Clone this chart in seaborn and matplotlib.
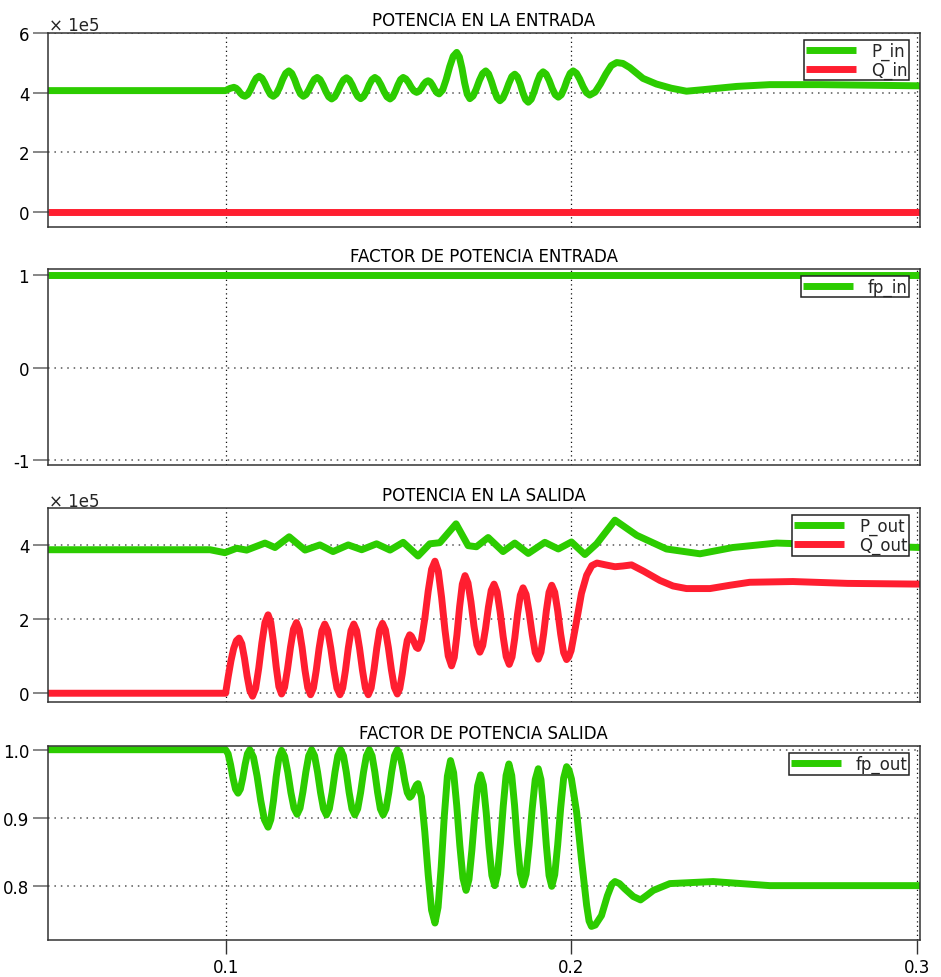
import matplotlib
matplotlib.use("Agg")
import matplotlib.pyplot as plt
import pandas as pd
import seaborn as sns

# ---------------- data ----------------
x_limits = [0.0486, 0.3009]
x_ticks = [0.1, 0.2, 0.3]
x_ticklabels = ["0.1", "0.2", "0.3"]

# Panel 1: POTENCIA EN LA ENTRADA (units of 1e5), (time, value) pairs
pin_pts = [
    (0.0486, 4.07), (0.1000, 4.07), (0.1012, 4.14), (0.1024, 4.18),
    (0.10304, 4.15), (0.10368, 4.08), (0.10432, 3.98), (0.10496, 3.91), (0.1056, 3.88),
    (0.10642, 3.94), (0.10724, 4.11), (0.10806, 4.32), (0.10888, 4.49), (0.1097, 4.55),
    (0.11052, 4.49), (0.11134, 4.32), (0.11216, 4.11), (0.11298, 3.94), (0.1138, 3.88),
    (0.1147, 3.96), (0.1156, 4.17), (0.1165, 4.44), (0.1174, 4.65), (0.1183, 4.73),
    (0.11914, 4.65), (0.11998, 4.44), (0.12082, 4.17), (0.12166, 3.96), (0.1225, 3.88),
    (0.1233, 3.94), (0.1241, 4.10), (0.1249, 4.29), (0.1257, 4.45), (0.1265, 4.51),
    (0.12734, 4.44), (0.12818, 4.26), (0.12902, 4.04), (0.12986, 3.86), (0.1307, 3.79),
    (0.13156, 3.86), (0.13242, 4.04), (0.13328, 4.26), (0.13414, 4.43), (0.1350, 4.50),
    (0.13582, 4.43), (0.13664, 4.26), (0.13746, 4.04), (0.13828, 3.87), (0.1391, 3.80),
    (0.13992, 3.87), (0.14074, 4.04), (0.14156, 4.27), (0.14238, 4.44), (0.1432, 4.51),
    (0.14408, 4.44), (0.14496, 4.26), (0.14584, 4.04), (0.14672, 3.86), (0.1476, 3.79),
    (0.14836, 3.86), (0.14912, 4.04), (0.14988, 4.26), (0.15064, 4.44), (0.1514, 4.51),
    (0.15218, 4.46), (0.15296, 4.34), (0.15374, 4.18), (0.15452, 4.06), (0.1553, 4.01),
    (0.15596, 4.05), (0.15662, 4.14), (0.15728, 4.27), (0.15794, 4.36), (0.1586, 4.40),
    (0.15924, 4.36), (0.15988, 4.25), (0.16052, 4.11), (0.16116, 4.00), (0.1618, 3.96),
    (0.16282, 4.09), (0.16384, 4.44), (0.16486, 4.87), (0.16588, 5.22), (0.1669, 5.35),
    (0.16766, 5.20), (0.16842, 4.82), (0.16918, 4.33), (0.16994, 3.95), (0.1707, 3.80),
    (0.17162, 3.89), (0.17254, 4.12), (0.17346, 4.41), (0.17438, 4.64), (0.1753, 4.73),
    (0.17612, 4.63), (0.17694, 4.38), (0.17776, 4.08), (0.17858, 3.83), (0.1794, 3.73),
    (0.18026, 3.82), (0.18112, 4.04), (0.18198, 4.31), (0.18284, 4.54), (0.1837, 4.62),
    (0.18448, 4.53), (0.18526, 4.30), (0.18604, 4.00), (0.18682, 3.77), (0.1876, 3.68),
    (0.18846, 3.78), (0.18932, 4.03), (0.19018, 4.35), (0.19104, 4.60), (0.1919, 4.70),
    (0.19278, 4.62), (0.19366, 4.41), (0.19454, 4.14), (0.19542, 3.93), (0.1963, 3.85),
    (0.19716, 3.93), (0.19802, 4.15), (0.19888, 4.43), (0.19974, 4.65), (0.2006, 4.73),
    (0.20156, 4.65), (0.20252, 4.45), (0.20348, 4.20), (0.20444, 4.00), (0.2054, 3.92),
    (0.20696, 4.02), (0.20852, 4.30), (0.21008, 4.63), (0.21164, 4.91), (0.2132, 5.01),
    (0.2150, 4.98), (0.2170, 4.84), (0.2208, 4.48), (0.2247, 4.29), (0.2290, 4.15),
    (0.2334, 4.05), (0.2381, 4.10), (0.2479, 4.21), (0.2575, 4.27), (0.2720, 4.27),
    (0.3010, 4.23),
]
qin_pts = [(0.0486, 0.00), (0.1000, 0.00), (0.2000, 0.00), (0.3010, 0.00)]

# Panel 2: FACTOR DE POTENCIA ENTRADA
fpin_pts = [(0.0486, 1.0), (0.3010, 1.0)]

# Panel 3: POTENCIA EN LA SALIDA (units of 1e5)
pout_pts = [
    (0.0486, 3.88), (0.0750, 3.88), (0.0955, 3.88), (0.0998, 3.80), (0.1032, 3.92),
    (0.1061, 3.87), (0.1114, 4.06), (0.1143, 3.94), (0.1184, 4.23), (0.1230, 3.87),
    (0.1273, 4.01), (0.1311, 3.83), (0.1355, 4.01), (0.1394, 3.88), (0.1437, 4.04),
    (0.1476, 3.87), (0.1514, 4.08), (0.1557, 3.71), (0.1591, 4.04), (0.1620, 4.07),
    (0.1667, 4.58), (0.1702, 3.99), (0.1726, 3.96), (0.1760, 4.21), (0.1803, 3.83),
    (0.1837, 4.06), (0.1876, 3.78), (0.1924, 4.08), (0.1963, 3.90), (0.2001, 4.09),
    (0.2040, 3.75), (0.2074, 4.04), (0.2127, 4.68), (0.2190, 4.27), (0.2276, 3.90),
    (0.2373, 3.77), (0.2468, 3.94), (0.2595, 4.06), (0.2800, 4.00), (0.3010, 3.94),
]
qout_pts = [
    (0.0486, 0.00), (0.1000, 0.00),
    (0.10078, 0.46), (0.10156, 0.88), (0.10234, 1.21), (0.10312, 1.42), (0.1039, 1.49),
    (0.10468, 1.34), (0.10546, 0.95), (0.10624, 0.46), (0.10702, 0.07), (0.1078, -0.08),
    (0.1087, 0.13), (0.1096, 0.68), (0.1105, 1.36), (0.1114, 1.91), (0.1123, 2.12),
    (0.11308, 1.92), (0.11386, 1.38), (0.11464, 0.72), (0.11542, 0.18), (0.1162, -0.02),
    (0.11706, 0.16), (0.11792, 0.65), (0.11878, 1.24), (0.11964, 1.73), (0.1205, 1.91),
    (0.12132, 1.72), (0.12214, 1.24), (0.12296, 0.63), (0.12378, 0.15), (0.1246, -0.04),
    (0.12542, 0.14), (0.12624, 0.62), (0.12706, 1.21), (0.12788, 1.69), (0.1287, 1.87),
    (0.12958, 1.69), (0.13046, 1.21), (0.13134, 0.62), (0.13222, 0.14), (0.1331, -0.04),
    (0.1339, 0.14), (0.1347, 0.62), (0.1355, 1.21), (0.1363, 1.69), (0.1371, 1.87),
    (0.13794, 1.69), (0.13878, 1.21), (0.13962, 0.62), (0.14046, 0.14), (0.1413, -0.04),
    (0.14212, 0.14), (0.14294, 0.63), (0.14376, 1.22), (0.14458, 1.71), (0.1454, 1.89),
    (0.14626, 1.71), (0.14712, 1.23), (0.14798, 0.64), (0.14884, 0.16), (0.1497, -0.02),
    (0.15042, 0.13), (0.15114, 0.53), (0.15186, 1.03), (0.15258, 1.43), (0.1533, 1.58),
    (0.15378, 1.54), (0.15426, 1.45), (0.15474, 1.34), (0.15522, 1.24), (0.1557, 1.21),
    (0.15668, 1.43), (0.15766, 2.02), (0.15864, 2.76), (0.15962, 3.35), (0.1606, 3.57),
    (0.16156, 3.30), (0.16252, 2.59), (0.16348, 1.72), (0.16444, 1.01), (0.1654, 0.74),
    (0.16618, 0.97), (0.16696, 1.58), (0.16774, 2.34), (0.16852, 2.95), (0.1693, 3.18),
    (0.17016, 2.98), (0.17102, 2.47), (0.17188, 1.82), (0.17274, 1.31), (0.1736, 1.11),
    (0.17442, 1.29), (0.17524, 1.75), (0.17606, 2.32), (0.17688, 2.78), (0.1777, 2.95),
    (0.17858, 2.74), (0.17946, 2.20), (0.18034, 1.53), (0.18122, 0.99), (0.1821, 0.78),
    (0.1829, 0.98), (0.1837, 1.49), (0.1845, 2.14), (0.1853, 2.65), (0.1861, 2.85),
    (0.18698, 2.67), (0.18786, 2.18), (0.18874, 1.59), (0.18962, 1.10), (0.1905, 0.92),
    (0.19128, 1.11), (0.19206, 1.61), (0.19284, 2.23), (0.19362, 2.73), (0.1944, 2.92),
    (0.19526, 2.73), (0.19612, 2.23), (0.19698, 1.60), (0.19784, 1.10), (0.1987, 0.91),
    (0.1993, 0.98), (0.2000, 1.15), (0.2016, 1.96), (0.2030, 2.70), (0.2045, 3.19),
    (0.2060, 3.45), (0.2075, 3.52), (0.2100, 3.47), (0.2127, 3.42), (0.2150, 3.44),
    (0.2175, 3.47), (0.2210, 3.30), (0.2257, 3.05), (0.2295, 2.90), (0.2334, 2.83),
    (0.2402, 2.83), (0.2460, 2.92), (0.2517, 3.00), (0.2642, 3.02), (0.2800, 2.97),
    (0.3010, 2.95),
]

# Panel 4: FACTOR DE POTENCIA SALIDA
fpout_pts = [
    (0.0486, 1.000), (0.1000, 1.000),
    (0.10072, 0.994), (0.10144, 0.978), (0.10216, 0.958), (0.10288, 0.942), (0.1036, 0.936),
    (0.10428, 0.942), (0.10496, 0.958), (0.10564, 0.978), (0.10632, 0.994), (0.1070, 1.000),
    (0.10806, 0.989), (0.10912, 0.961), (0.11018, 0.925), (0.11124, 0.897), (0.1123, 0.886),
    (0.11308, 0.897), (0.11386, 0.925), (0.11464, 0.960), (0.11542, 0.988), (0.1162, 0.999),
    (0.1171, 0.990), (0.1180, 0.967), (0.1189, 0.937), (0.1198, 0.914), (0.1207, 0.905),
    (0.12154, 0.914), (0.12238, 0.938), (0.12322, 0.967), (0.12406, 0.991), (0.1249, 1.000),
    (0.12576, 0.991), (0.12662, 0.967), (0.12748, 0.937), (0.12834, 0.913), (0.1292, 0.904),
    (0.13002, 0.913), (0.13084, 0.937), (0.13166, 0.967), (0.13248, 0.991), (0.1333, 1.000),
    (0.13412, 0.991), (0.13494, 0.967), (0.13576, 0.937), (0.13658, 0.913), (0.1374, 0.904),
    (0.13824, 0.913), (0.13908, 0.937), (0.13992, 0.967), (0.14076, 0.991), (0.1416, 1.000),
    (0.1424, 0.991), (0.1432, 0.967), (0.1440, 0.937), (0.1448, 0.913), (0.1456, 0.904),
    (0.14642, 0.913), (0.14724, 0.937), (0.14806, 0.967), (0.14888, 0.991), (0.1497, 1.000),
    (0.15042, 0.993), (0.15114, 0.976), (0.15186, 0.954), (0.15258, 0.937), (0.1533, 0.930),
    (0.15378, 0.932), (0.15426, 0.937), (0.15474, 0.943), (0.15522, 0.948), (0.1557, 0.950),
    (0.15668, 0.931), (0.15766, 0.879), (0.15864, 0.816), (0.15962, 0.764), (0.1606, 0.745),
    (0.1615, 0.768), (0.1624, 0.827), (0.1633, 0.902), (0.1642, 0.961), (0.1651, 0.984),
    (0.1660, 0.966), (0.1669, 0.918), (0.1678, 0.859), (0.1687, 0.811), (0.1696, 0.793),
    (0.17044, 0.809), (0.17128, 0.852), (0.17212, 0.904), (0.17296, 0.947), (0.1738, 0.963),
    (0.17462, 0.948), (0.17544, 0.907), (0.17626, 0.856), (0.17708, 0.815), (0.1779, 0.800),
    (0.17872, 0.817), (0.17954, 0.862), (0.18036, 0.917), (0.18118, 0.962), (0.1820, 0.979),
    (0.18282, 0.962), (0.18364, 0.918), (0.18446, 0.862), (0.18528, 0.818), (0.1861, 0.801),
    (0.18698, 0.817), (0.18786, 0.860), (0.18874, 0.913), (0.18962, 0.956), (0.1905, 0.972),
    (0.19128, 0.956), (0.19206, 0.912), (0.19284, 0.859), (0.19362, 0.815), (0.1944, 0.799),
    (0.19526, 0.816), (0.19612, 0.860), (0.19698, 0.914), (0.19784, 0.958), (0.1987, 0.975),
    (0.1994, 0.970), (0.2001, 0.957), (0.2016, 0.908), (0.2030, 0.839), (0.2045, 0.771),
    (0.2052, 0.748), (0.2059, 0.740), (0.2070, 0.742), (0.2088, 0.756), (0.2105, 0.785),
    (0.2118, 0.802), (0.2127, 0.806), (0.2140, 0.803), (0.2156, 0.795), (0.2180, 0.784),
    (0.2201, 0.779), (0.2220, 0.786), (0.2238, 0.793), (0.2286, 0.803), (0.2411, 0.806),
    (0.2575, 0.800), (0.3010, 0.800),
]

titles = ["POTENCIA EN LA ENTRADA", "FACTOR DE POTENCIA ENTRADA",
          "POTENCIA EN LA SALIDA", "FACTOR DE POTENCIA SALIDA"]
y_limits = [(-0.5, 6.0), (-1.05, 1.065), (-0.245, 5.0), (0.72, 1.005)]
y_ticks = [[0, 2, 4, 6], [-1, 0, 1], [0, 2, 4], [0.8, 0.9, 1.0]]
y_ticklabels = [["0", "2", "4", "6"], ["-1", "0", "1"], ["0", "2", "4"], ["0.8", "0.9", "1.0"]]
scale_label = "\u00d7 1e5"

# ---------------- style ----------------
sns.set_theme(style="white")
plt.rcParams['font.family'] = ['DejaVu Sans']

GREEN = '#2ccc00'
RED = '#ff1e30'
LW = 5.0
W, H = 941, 978
fig = plt.figure(figsize=(W / 100, H / 100), dpi=100)


def rect(left, top, right, bottom):
    return [left / W, 1 - bottom / H, (right - left) / W, (bottom - top) / H]


rects = [rect(48, 34, 919.7, 228), rect(48, 270, 919.7, 466),
         rect(48, 509.3, 919.7, 703.3), rect(48, 747.3, 919.7, 941)]
axes = [fig.add_axes(r) for r in rects]

series = [
    [(pin_pts, "P_in", GREEN), (qin_pts, "Q_in", RED)],
    [(fpin_pts, "fp_in", GREEN)],
    [(pout_pts, "P_out", GREEN), (qout_pts, "Q_out", RED)],
    [(fpout_pts, "fp_out", GREEN)],
]

for i, ax in enumerate(axes):
    for pts, name, col in series[i]:
        df = pd.DataFrame(pts, columns=["t", "v"])
        sns.lineplot(data=df, x="t", y="v", ax=ax, color=col, linewidth=LW,
                     label=name, sort=False, estimator=None,
                     solid_capstyle='butt', solid_joinstyle='round')
    ax.set_xlabel("")
    ax.set_ylabel("")
    ax.set_xlim(*x_limits)
    ax.set_ylim(*y_limits[i])
    ax.set_yticks(y_ticks[i])
    ax.set_yticklabels(y_ticklabels[i])
    ax.set_xticks(x_ticks)
    last = (i == 3)
    if last:
        ax.set_xticklabels(x_ticklabels)
    else:
        ax.set_xticklabels([])
    ax.tick_params(axis='y', left=True, length=10.5, width=1.1, color='#666666',
                   pad=3, labelsize=12, labelcolor='black', direction='out')
    ax.tick_params(axis='x', bottom=last, length=10, width=1.0, color='#333333',
                   pad=3, labelsize=12, labelcolor='black', direction='out')
    ax.yaxis.grid(True, linestyle=(0, (1, 3.2)), color='#555555', linewidth=1.1)
    ax.xaxis.grid(True, linestyle=(0, (1, 2.6)), color='#111111', linewidth=0.9)
    for sp in ax.spines.values():
        sp.set_visible(True)
        sp.set_color('#333333')
        sp.set_linewidth(1.1)
    ax.set_title(titles[i], fontsize=12, pad=6, color='black')
    if i in (0, 2):
        ax.annotate(scale_label, xy=(0, 1), xycoords='axes fraction',
                    xytext=(1, 2), textcoords='offset points',
                    ha='left', va='baseline', fontsize=12)
    aw = (rects[i][2] * W)
    ah = (rects[i][3] * H)
    leg = ax.legend(loc='upper right', bbox_to_anchor=(1 - 10.4 / aw, 1 - 6.7 / ah),
                    borderaxespad=0, fontsize=12, frameon=True, fancybox=False,
                    framealpha=1, edgecolor='#222222', borderpad=0.1,
                    labelspacing=0.05, handlelength=3.0, handletextpad=0.9)
    leg.get_frame().set_linewidth(1.1)
    for ln in leg.get_lines():
        ln.set_linewidth(5.0)

fig.savefig("out.png", dpi=100)
